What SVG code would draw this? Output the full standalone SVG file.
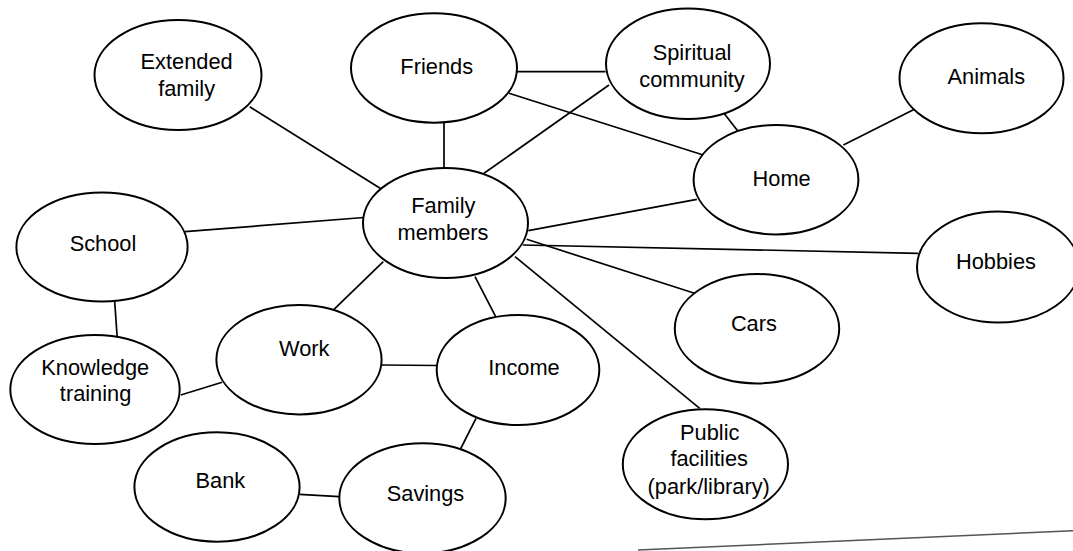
<svg xmlns="http://www.w3.org/2000/svg" width="1073" height="551" viewBox="0 0 1073 551">
<style>
.n ellipse{fill:#fff;stroke:#000;stroke-width:2}
.n text{font-family:"Liberation Sans",Arial,sans-serif;font-size:21.8px;fill:#000;text-anchor:middle}
.c line{stroke:#000;stroke-width:1.7}
</style>
<rect width="1073" height="551" fill="#fff"/>
<g class="c" id="connectors">
<line x1="249.7" y1="106.7" x2="381.7" y2="189.3"/>
<line x1="444" y1="122.7" x2="444" y2="168"/>
<line x1="516.6" y1="71.7" x2="605.5" y2="71.7"/>
<line x1="509" y1="93.3" x2="703.2" y2="155"/>
<line x1="484" y1="173.3" x2="609" y2="85"/>
<line x1="724" y1="113.3" x2="737.8" y2="131"/>
<line x1="843.4" y1="145" x2="914.4" y2="109.3"/>
<line x1="528.3" y1="230.7" x2="696.9" y2="199.3"/>
<line x1="185" y1="231.7" x2="364" y2="217.5"/>
<line x1="522.7" y1="245" x2="918.3" y2="253.3"/>
<line x1="526.7" y1="239.3" x2="694.5" y2="293.3"/>
<line x1="515" y1="256.7" x2="699.7" y2="408.3"/>
<line x1="383.3" y1="261.7" x2="334" y2="309.3"/>
<line x1="475" y1="276.7" x2="495.7" y2="316.7"/>
<line x1="114.7" y1="301.7" x2="117.1" y2="336"/>
<line x1="180.8" y1="395" x2="222.1" y2="382.3"/>
<line x1="381.6" y1="365" x2="436.7" y2="365.5"/>
<line x1="476" y1="418.3" x2="460" y2="450"/>
<line x1="299.6" y1="494.3" x2="339.3" y2="496.7"/>
<line x1="638" y1="550" x2="1073" y2="530.7" style="stroke:#555;stroke-width:1.5"/>
</g>
<g class="n" id="extended-family"><ellipse cx="178" cy="75" rx="83.5" ry="55"/><text x="186.6" y="68.5">Extended</text><text x="186.6" y="95.5">family</text></g>
<g class="n" id="friends"><ellipse cx="434" cy="68" rx="83" ry="54.7"/><text x="436.7" y="73.5">Friends</text></g>
<g class="n" id="spiritual-community"><ellipse cx="688" cy="63.7" rx="82" ry="55.3"/><text x="692" y="59.5">Spiritual</text><text x="692" y="86.5">community</text></g>
<g class="n" id="animals"><ellipse cx="981.5" cy="78.3" rx="82" ry="55"/><text x="986.3" y="83.5">Animals</text></g>
<g class="n" id="home"><ellipse cx="776" cy="179.7" rx="82.4" ry="54.7"/><text x="781.6" y="186">Home</text></g>
<g class="n" id="family-members"><ellipse cx="445.5" cy="223" rx="82.5" ry="55"/><text x="443.3" y="213">Family</text><text x="443" y="239.5">members</text></g>
<g class="n" id="school"><ellipse cx="102" cy="247" rx="85.6" ry="54.5"/><text x="103" y="250.5">School</text></g>
<g class="n" id="hobbies"><ellipse cx="998" cy="267" rx="81" ry="55.5"/><text x="996" y="268.5">Hobbies</text></g>
<g class="n" id="cars"><ellipse cx="757" cy="328.7" rx="82.2" ry="54.7"/><text x="753.9" y="331">Cars</text></g>
<g class="n" id="work"><ellipse cx="299" cy="359.7" rx="82.6" ry="54.7"/><text x="304.3" y="356">Work</text></g>
<g class="n" id="income"><ellipse cx="518" cy="370" rx="81.3" ry="55"/><text x="524" y="374.5">Income</text></g>
<g class="n" id="knowledge-training"><ellipse cx="95" cy="389.5" rx="84.7" ry="54.5"/><text x="95.2" y="374.5">Knowledge</text><text x="95.6" y="400.5">training</text></g>
<g class="n" id="public-facilities"><ellipse cx="705.4" cy="464.3" rx="82.6" ry="55"/><text x="709.7" y="440">Public</text><text x="709.2" y="466">facilities</text><text x="708.7" y="493.5">(park/library)</text></g>
<g class="n" id="bank"><ellipse cx="217" cy="487" rx="82.6" ry="54.7"/><text x="220.4" y="487.5">Bank</text></g>
<g class="n" id="savings"><ellipse cx="422.5" cy="498.3" rx="83.2" ry="55"/><text x="425.5" y="500.5">Savings</text></g>
</svg>
